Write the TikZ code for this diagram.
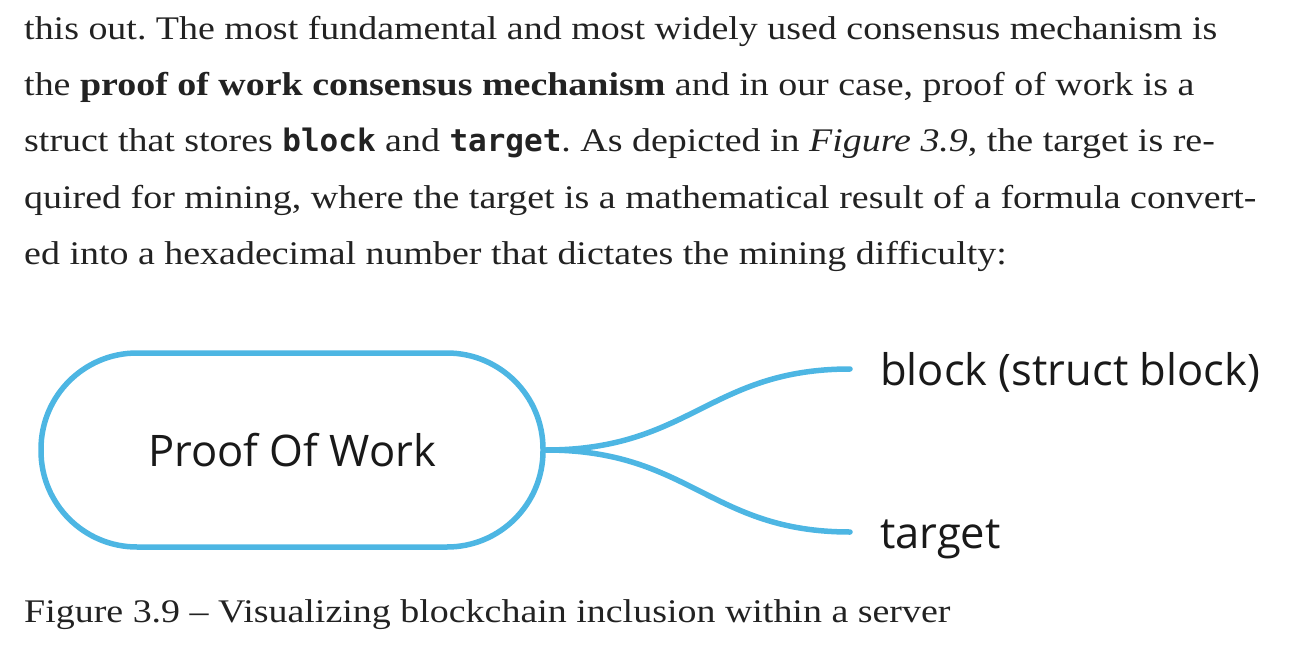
\documentclass[tikz,border=0pt]{standalone}
\usepackage{fontspec}
\setmainfont{Liberation Serif}[FakeStretch=1.15]
\newfontfamily\codefont{DejaVu Sans Mono}
\newfontfamily\mapfont{Open Sans}
\definecolor{inkgray}{HTML}{222222}
\definecolor{mapblue}{HTML}{4DB6E3}
\frenchspacing
\tikzset{
    bodyline/.style={anchor=base west, inner sep=0pt, text=inkgray, font=\fontsize{33}{40}\selectfont},
    topic/.style={draw=mapblue, line width=5.5pt, rounded corners=96pt, minimum width=502pt, minimum height=194pt, text=black!90, font=\mapfont\fontsize{43.5}{50}\selectfont},
    leaf/.style={anchor=west, inner ysep=0pt, inner xsep=30pt, text height=40pt, text depth=8pt, text=black!90, font=\mapfont\fontsize{43.5}{50}\selectfont},
    branch/.style={draw=mapblue, line width=5.5pt, line cap=round}
}
\newcommand{\code}[1]{{\codefont\bfseries\fontsize{31}{40}\selectfont #1}}
\begin{document}
\begin{tikzpicture}[x=1pt, y=-1pt]
        \useasboundingbox (0,0) rectangle (1314,658);
        % running text
        \node[bodyline] (line1) at (24,40) {this out. The most fundamental and most widely used consensus mechanism is};
        \node[bodyline] (line2) at (24,96) {the \textbf{proof of work consensus mechanism} and in our case, proof of work is a};
        \node[bodyline] (line3) at (24,152) {struct that stores \code{block} and \code{target}. As depicted in \textit{Figure 3.9}, the target is re-};
        \node[bodyline] (line4) at (24,208) {quired for mining, where the target is a mathematical result of a formula convert-};
        \node[bodyline] (line5) at (24,264) {ed into a hexadecimal number that dictates the mining difficulty:};
        % mind map
        \node[topic] (pow) at (292,450) {Proof Of Work};
        \node[leaf] (blk) at (850,369) {block (struct block)};
        \node[leaf] (tgt) at (850,532) {target};
        \draw[branch] (pow.east) .. controls (690,450) and (710,369) .. (blk.west);
        \draw[branch] (pow.east) .. controls (690,450) and (710,532) .. (tgt.west);
        % caption
        \node[bodyline] (caption) at (24,622) {Figure 3.9 -- Visualizing blockchain inclusion within a server};
\end{tikzpicture}
\end{document}
